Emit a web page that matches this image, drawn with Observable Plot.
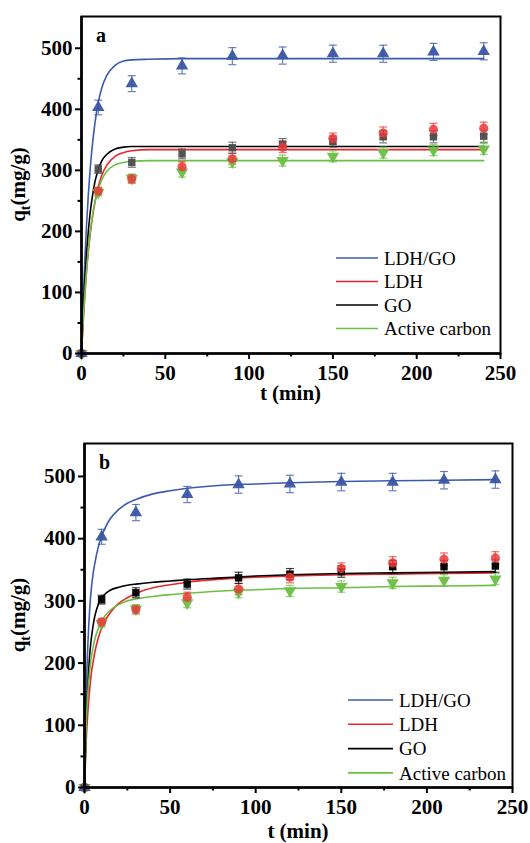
<!DOCTYPE html>
<html><head><meta charset="utf-8">
<script src="https://cdn.jsdelivr.net/npm/d3@7"></script>
<script src="https://cdn.jsdelivr.net/npm/@observablehq/plot@0.6"></script>
<style>body{margin:0;background:#fff}#chart svg{display:block}</style>
</head><body><div id="chart"></div>
<script>
// ---- data ----
const seriesNames = ["LDH/GO", "LDH", "GO", "Active carbon"];
const lineColors = ["#3b5bb0", "#e8262b", "#000000", "#6cbf45"];
const markColorsA = ["#3a55a4", "#ea3a3a", "#4d4d4d", "#6cbf45"];
const markColorsB = ["#3a55a4", "#ea3a3a", "#000000", "#6cbf45"];
const times = [0, 10, 30, 60, 90, 120, 150, 180, 210, 240];
const qLDHGO = [0, 403, 442, 471, 487, 488, 491, 491, 494, 495];
const qLDH   = [0, 266, 286, 306, 319, 338, 352, 361, 367, 369];
const qGO    = [0, 302, 313, 327, 337, 343, 347, 355, 355, 356];
const qAC    = [0, 264, 287, 297, 314, 316, 323, 329, 333, 335];
const eLDHGO = [0, 12, 13, 13, 14, 14, 14, 14, 14, 14];
const eLDH   = [0, 6, 7, 8, 9, 9, 9, 10, 10, 10];
const eGO    = [0, 7, 8, 8, 9, 9, 9, 10, 10, 10];
const eAC    = [0, 6, 7, 8, 9, 9, 9, 9, 9, 9];

// fitted curves, panel a
const fitTa = [0, 1, 2, 3, 4, 5, 6, 8, 10, 12, 15, 20, 25, 30, 40, 60, 100, 150, 200, 240];
const fitA_LDHGO = [0, 84, 153, 210, 257, 296, 328, 377, 411, 434, 455, 472, 479, 481, 482, 483, 483, 483, 483, 483];
const fitA_LDH   = [0, 52, 96, 134, 165, 191, 213, 248, 273, 291, 308, 323, 329, 332, 334, 334, 334, 334, 334, 334];
const fitA_GO    = [0, 67, 121, 164, 198, 226, 248, 281, 301, 315, 326, 335, 338, 339, 339, 339, 339, 339, 339, 339];
const fitA_AC    = [0, 55, 100, 137, 168, 194, 215, 247, 269, 284, 298, 309, 313, 315, 316, 316, 316, 316, 316, 316];
// fitted curves, panel b
const fitTb = [0, 1, 2, 3, 4, 5, 6, 8, 10, 12, 15, 20, 25, 30, 40, 50, 60, 80, 100, 120, 150, 180, 210, 240];
const fitB_LDHGO = [0, 150, 232, 285, 320, 343, 360, 386, 404, 417, 432, 447, 457, 463, 472, 477, 481, 486, 488, 490, 492, 493, 494, 495];
const fitB_LDH   = [0, 75, 123, 157, 184, 201, 217, 240, 256, 268, 281, 296, 305, 312, 321, 326, 330, 335, 338, 340, 342, 343, 344, 345];
const fitB_GO    = [0, 100, 165, 212, 240, 260, 275, 294, 305, 311, 317, 322, 325, 327, 330, 332, 334, 337, 340, 342, 344, 345, 346, 347];
const fitB_AC    = [0, 100, 153, 186, 209, 225, 238, 255, 267, 276, 285, 294, 300, 303, 307, 310, 312, 316, 318, 320, 321, 323, 324, 325];

const xTicks = [0, 50, 100, 150, 200, 250];
const xMinor = [25, 75, 125, 175, 225];
const yTicks = [0, 100, 200, 300, 400, 500];
const yMinor = [50, 150, 250, 350, 450];

const FONT = "'Liberation Serif', 'Times New Roman', Times, 'DejaVu Serif', serif";

// ---- helpers ----
const triDown = {draw(ctx, size) {
  const s3 = Math.sqrt(3), y = -Math.sqrt(size / (s3 * 3));
  ctx.moveTo(0, -y * 2); ctx.lineTo(-s3 * y, y); ctx.lineTo(s3 * y, y); ctx.closePath();
}};
const capSym = {draw(ctx, size) { const w = Math.sqrt(size / Math.PI); ctx.moveTo(-w, 0); ctx.lineTo(w, 0); }};
const symbols = ["triangle", "circle", "square", triDown];
const radii = [4.6, 4.6, 4.2, 4.6];
const qAll = [qLDHGO, qLDH, qGO, qAC];
const eAll = [eLDHGO, eLDH, eGO, eAC];

function rowsFor(i) {
  return times.map((t, j) => ({t, q: qAll[i][j], e: eAll[i][j]}));
}
function fitRows(T, arr) { return T.map((t, j) => ({t, q: arr[j]})); }

function decor(letter, leg, xTitleOff) {
  return (index, scales, values, dims) => {
    const {width, height, marginLeft: ml, marginTop: mt, marginRight: mr, marginBottom: mb} = dims;
    const g = d3.create("svg:g").attr("font-family", FONT).attr("fill", "black");
    g.append("text").attr("x", ml + 15).attr("y", mt + 26).attr("text-anchor", "start")
      .attr("font-weight", "bold").attr("font-size", 20).text(letter);
    const yt = g.append("text")
      .attr("transform", `translate(25,${(mt + height - mb) / 2}) rotate(-90)`)
      .attr("text-anchor", "middle").attr("font-weight", "bold").attr("font-size", 21);
    yt.append("tspan").text("q");
    yt.append("tspan").attr("font-size", 14).attr("dy", 5).text("t");
    yt.append("tspan").attr("dy", -5).text("(mg/g)");
    g.append("text").attr("x", (ml + width - mr) / 2).attr("y", height - mb + xTitleOff)
      .attr("text-anchor", "middle").attr("font-weight", "bold").attr("font-size", 21).text("t (min)");
    seriesNames.forEach((name, i) => {
      const y = mt + leg.y0 + i * leg.dy;
      g.append("line").attr("x1", ml + leg.x0).attr("x2", ml + leg.x1).attr("y1", y).attr("y2", y)
        .attr("stroke", lineColors[i]).attr("stroke-width", 1.6);
      g.append("text").attr("x", ml + leg.x1 + 6).attr("y", y).attr("dy", "0.35em")
        .attr("text-anchor", "start").attr("font-weight", "normal").attr("font-size", 19).text(name);
    });
    return g.node();
  };
}

function panel({fitT, fits, yMax, height, margins, markColors, letter, leg, xTitleOff}) {
  const marks = [];
  fits.forEach((arr, i) => marks.push(Plot.line(fitRows(fitT, arr), {x: "t", y: "q", stroke: lineColors[i], strokeWidth: 1.6, curve: "monotone-x"})));
  [1, 2, 3, 0].forEach(i => {
    const rows = rowsFor(i).filter(d => d.e > 0);
    marks.push(Plot.ruleX(rows, {x: "t", y1: d => d.q - d.e, y2: d => d.q + d.e, stroke: markColors[i], strokeOpacity: 0.75, strokeWidth: 1.2}));
    const caps = rows.flatMap(d => [{t: d.t, q: d.q - d.e}, {t: d.t, q: d.q + d.e}]);
    marks.push(Plot.dot(caps, {x: "t", y: "q", symbol: capSym, r: 4, stroke: markColors[i], strokeOpacity: 0.75, strokeWidth: 1.2, fill: "none"}));
  });
  [3, 2, 1, 0].forEach(i => {
    marks.push(Plot.dot(rowsFor(i), {x: "t", y: "q", symbol: symbols[i], r: radii[i], fill: markColors[i], fillOpacity: i === 1 ? 0.85 : 0.95, stroke: "none"}));
  });
  marks.push(Plot.frame({stroke: "black", strokeWidth: 2}));
  marks.push(Plot.ruleX([0], {stroke: "black", strokeWidth: 2.6}));
  marks.push(Plot.ruleY([0], {stroke: "black", strokeWidth: 2.6}));
  marks.push(Plot.axisX(xTicks, {tickSize: 6, tickPadding: 6, strokeWidth: 2, fontSize: 21, fontWeight: "bold", fontFamily: FONT, label: null, tickFormat: d => String(d)}));
  marks.push(Plot.axisX(xMinor, {tickSize: 3.5, strokeWidth: 2, label: null, tickFormat: () => ""}));
  marks.push(Plot.axisY(yTicks, {tickSize: 6, tickPadding: 3, strokeWidth: 2, fontSize: 21, fontWeight: "bold", fontFamily: FONT, label: null, tickFormat: d => String(d)}));
  marks.push(Plot.axisY(yMinor, {tickSize: 3.5, strokeWidth: 2, label: null, tickFormat: () => ""}));
  marks.push(decor(letter, leg, xTitleOff));
  return Plot.plot({
    width: 530, height,
    marginTop: margins[0], marginRight: margins[1], marginBottom: margins[2], marginLeft: margins[3],
    style: {fontFamily: FONT, color: "black", background: "white", overflow: "visible"},
    x: {domain: [0, 250]},
    y: {domain: [0, yMax]},
    marks
  });
}

const chart = document.getElementById("chart");
chart.append(panel({
  fitT: fitTa, fits: [fitA_LDHGO, fitA_LDH, fitA_GO, fitA_AC], yMax: 552, height: 410,
  margins: [16, 30, 57, 81], markColors: markColorsA, letter: "a",
  leg: {x0: 255, x1: 297, y0: 242, dy: 23.5}, xTitleOff: 47
}));
chart.append(panel({
  fitT: fitTb, fits: [fitB_LDHGO, fitB_LDH, fitB_GO, fitB_AC], yMax: 553, height: 433,
  margins: [33, 18, 56, 84], markColors: markColorsB, letter: "b",
  leg: {x0: 264, x1: 309, y0: 257, dy: 24.3}, xTitleOff: 51
}));
</script></body></html>
